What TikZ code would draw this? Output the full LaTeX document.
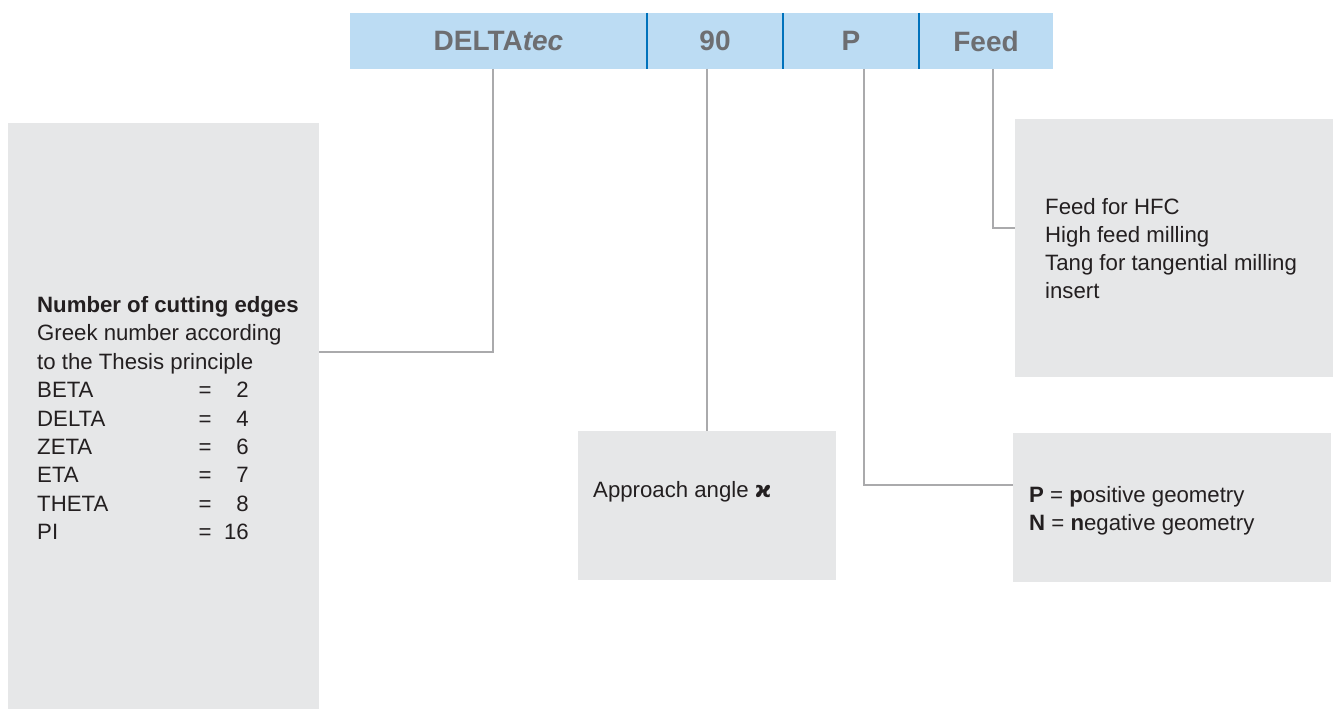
\documentclass[tikz,border=0pt]{standalone}
\usepackage{fontspec}
\setmainfont{Liberation Sans}
\newfontfamily\symfont{DejaVu Sans}
\usetikzlibrary{positioning}

\definecolor{barblue}{RGB}{188,220,243}
\definecolor{sepblue}{RGB}{0,114,188}
\definecolor{bartext}{RGB}{109,110,113}
\definecolor{boxgray}{RGB}{230,231,232}
\definecolor{linkgray}{RGB}{170,170,172}
\definecolor{bodytext}{RGB}{35,31,32}

\tikzset{
    cell/.style={fill=barblue, minimum height=56pt, inner sep=0pt, outer sep=0pt,
        text=bartext, font=\fontsize{28}{32}\selectfont\bfseries},
    infobox/.style={fill=boxgray, inner sep=0pt, outer sep=0pt, anchor=north west},
    txt/.style={anchor=base west, inner sep=0pt, text=bodytext,
        font=\fontsize{22.2}{28}\selectfont},
    link/.style={draw=linkgray, line width=1.4pt},
}

\begin{document}
\begin{tikzpicture}[x=1pt, y=-1pt]
    \useasboundingbox (0,0) rectangle (1338,709);

    % code bar
    \node[cell, minimum width=297pt, anchor=north west] (delta) at (350,13) {DELTA\textit{tec}};
    \node[cell, minimum width=136pt, right=0pt of delta] (num) {90};
    \node[cell, minimum width=136pt, right=0pt of num] (geo) {P};
    \node[cell, minimum width=134pt, right=0pt of geo] (feed) {Feed};
    \draw[sepblue, line width=1.5pt] (delta.north east) -- (delta.south east);
    \draw[sepblue, line width=1.5pt] (num.north east) -- (num.south east);
    \draw[sepblue, line width=1.5pt] (geo.north east) -- (geo.south east);

    % boxes
    \node[infobox, minimum width=311pt, minimum height=586pt] (edges) at (8,123) {};
    \node[infobox, minimum width=258pt, minimum height=149pt] (angle) at (578,431) {};
    \node[infobox, minimum width=318pt, minimum height=258pt] (feedbox) at (1015,119) {};
    \node[infobox, minimum width=318pt, minimum height=149pt] (geobox) at (1013,433) {};

    % number of cutting edges
    \node[txt] (e1) at (37,312.5) {\textbf{Number of cutting edges}};
    \node[txt] (e2) at (37,340.9) {Greek number according};
    \node[txt] (e3) at (37,369.3) {to the Thesis principle};
    \foreach \word/\n [count=\i] in {BETA/2, DELTA/4, ZETA/6, ETA/7, THETA/8, PI/16} {
        \node[txt] (g\i) at (37,369.3+28.4*\i) {\word};
        \node[txt, anchor=base] (q\i) at (205,369.3+28.4*\i) {=};
        \node[txt, anchor=base east] (v\i) at (249,369.3+28.4*\i) {\n};
    }

    \node[txt] (a1) at (593,497) {Approach angle {\symfont\bfseries ϰ}};

    \node[txt] (f1) at (1045,214) {Feed for HFC};
    \node[txt] (f2) at (1045,242) {High feed milling};
    \node[txt] (f3) at (1045,270) {Tang for tangential milling};
    \node[txt] (f4) at (1045,298.5) {insert};

    \node[txt] (p1) at (1029,502) {\textbf{P} = \textbf{p}ositive geometry};
    \node[txt] (p2) at (1029,530) {\textbf{N} = \textbf{n}egative geometry};

    % connectors
    \coordinate (k1) at (319,352);
    \coordinate (k3) at (1013,485);
    \coordinate (k4) at (1015,228);
    \draw[link] ([xshift=-5.5pt]delta.south) |- (k1);
    \draw[link] (num.south -| angle.north) -- (angle.north);
    \draw[link] ([xshift=13pt]geo.south) |- (k3);
    \draw[link] ([xshift=7pt]feed.south) |- (k4);
\end{tikzpicture}
\end{document}
